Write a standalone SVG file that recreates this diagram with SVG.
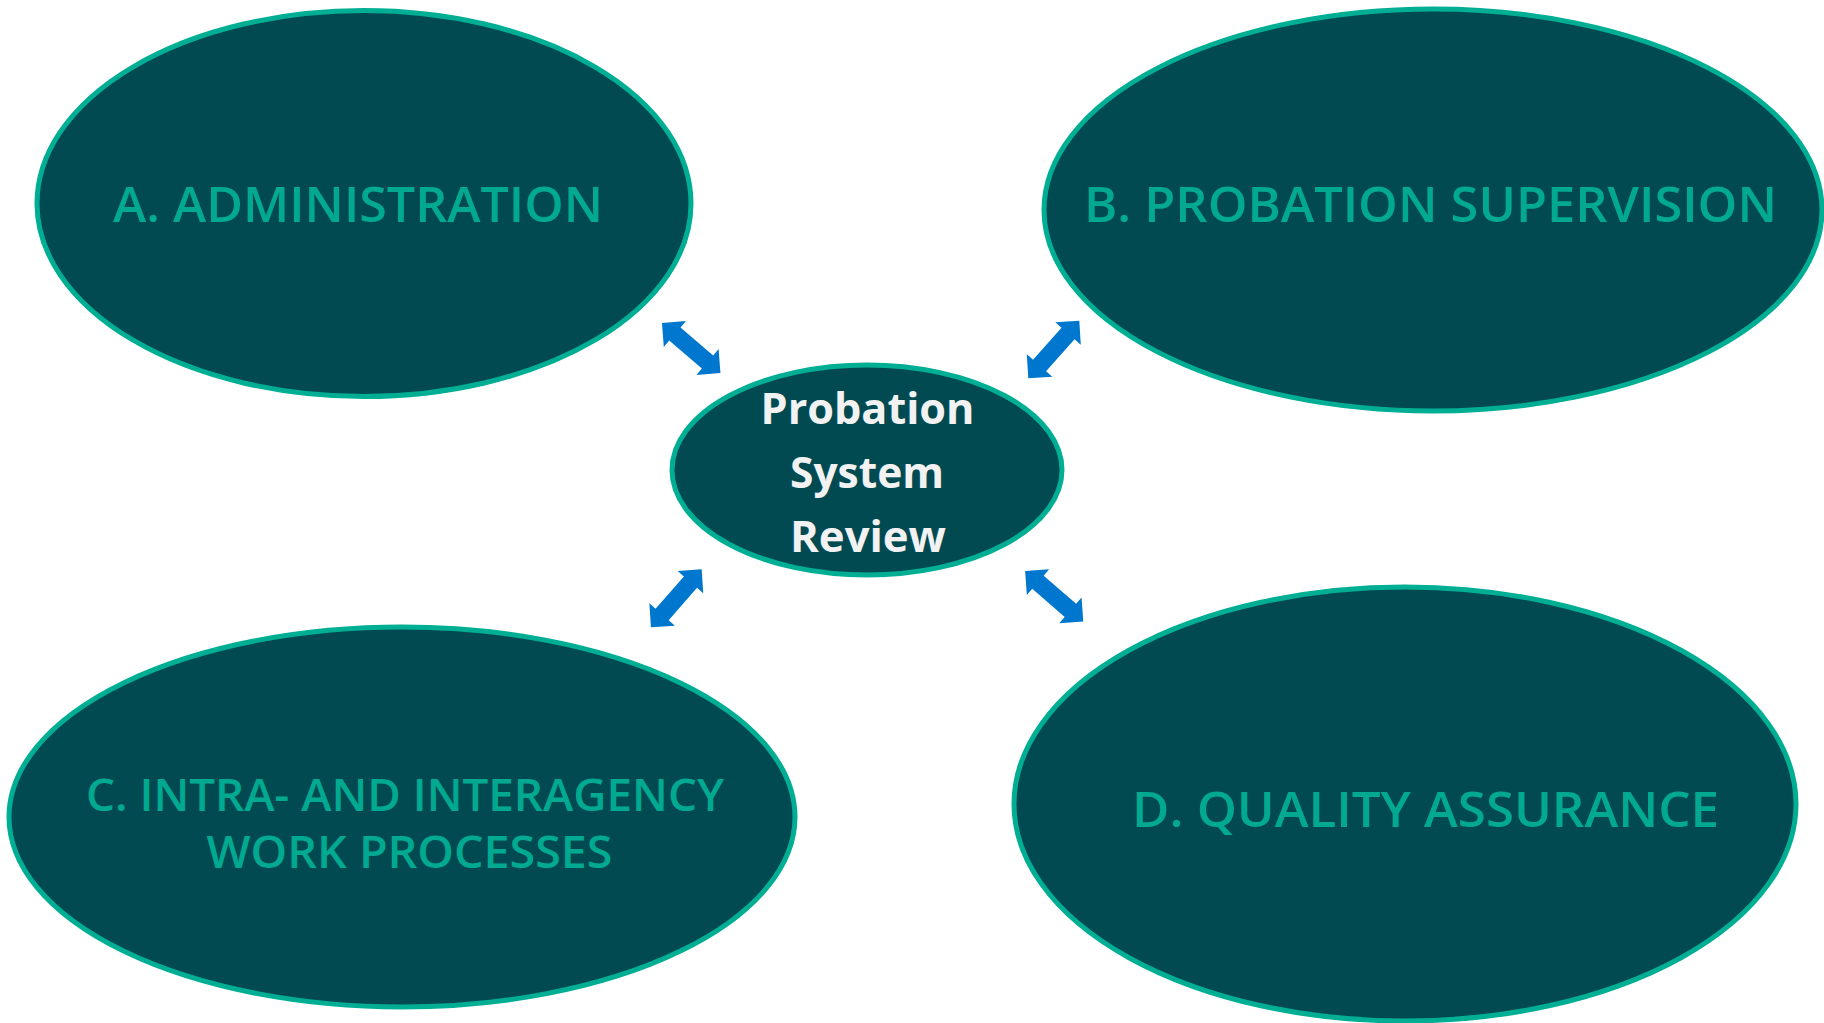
<svg xmlns="http://www.w3.org/2000/svg" width="1824" height="1023" viewBox="0 0 1824 1023">
<style>
.node{fill:#014A52;stroke:#00AE94;stroke-width:5}
.lbl{font-family:"Open Sans","Liberation Sans",sans-serif;font-weight:600;fill:#00A98F;text-anchor:middle}
.ctr{font-family:"Open Sans","Liberation Sans",sans-serif;font-weight:700;fill:#F2F2F2;text-anchor:middle;font-size:43px}
.arr{fill:#0077CF}
</style>
<defs>
<path id="dblarrow" class="arr" d="M-38.5,0 L-21.5,-17 L-21.5,-8.7 L21.5,-8.7 L21.5,-17 L38.5,0 L21.5,17 L21.5,8.7 L-21.5,8.7 L-21.5,17 Z"/>
</defs>
<rect width="1824" height="1023" fill="#FFFFFF"/>
<g id="node-a">
<ellipse class="node" cx="364" cy="203.5" rx="327" ry="193"/>
<text class="lbl" x="358" y="222" font-size="49" textLength="490" lengthAdjust="spacingAndGlyphs">A. ADMINISTRATION</text>
</g>
<g id="node-b">
<ellipse class="node" cx="1433" cy="210" rx="389" ry="201"/>
<text class="lbl" x="1430.5" y="222" font-size="49" textLength="693" lengthAdjust="spacingAndGlyphs">B. PROBATION SUPERVISION</text>
</g>
<g id="node-c">
<ellipse class="node" cx="402" cy="817" rx="393" ry="190"/>
<text class="lbl" x="405" y="811" font-size="46" textLength="638" lengthAdjust="spacingAndGlyphs">C. INTRA- AND INTERAGENCY</text>
<text class="lbl" x="409.5" y="868" font-size="46" textLength="406" lengthAdjust="spacingAndGlyphs">WORK PROCESSES</text>
</g>
<g id="node-d">
<ellipse class="node" cx="1405" cy="804" rx="391" ry="217"/>
<text class="lbl" x="1425.5" y="827" font-size="49" textLength="587" lengthAdjust="spacingAndGlyphs">D. QUALITY ASSURANCE</text>
</g>
<g id="node-center">
<ellipse class="node" cx="867" cy="470" rx="195" ry="105"/>
<text class="ctr" x="867.5" y="424" textLength="214" lengthAdjust="spacingAndGlyphs">Probation</text>
<text class="ctr" x="867" y="488" textLength="154" lengthAdjust="spacingAndGlyphs">System</text>
<text class="ctr" x="868" y="552" textLength="156" lengthAdjust="spacingAndGlyphs">Review</text>
</g>
<g id="connectors">
<use href="#dblarrow" transform="translate(691.2,348) rotate(40.6)"/>
<use href="#dblarrow" transform="translate(1053.8,349.5) rotate(-48.5)"/>
<use href="#dblarrow" transform="translate(676.3,598.3) rotate(-48.8)"/>
<use href="#dblarrow" transform="translate(1054.2,596.3) rotate(41)"/>
</g>
</svg>
